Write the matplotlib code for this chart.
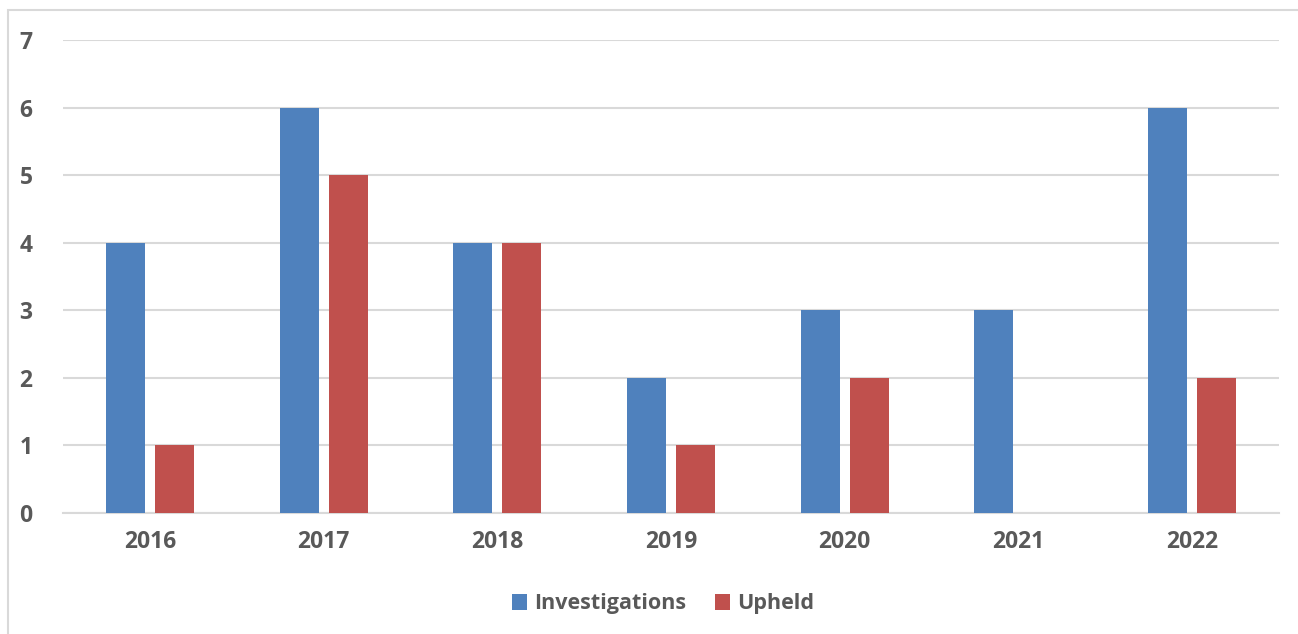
import matplotlib
matplotlib.use("Agg")
import matplotlib.pyplot as plt
from matplotlib.patches import Rectangle
import numpy as np

years = ["2016", "2017", "2018", "2019", "2020", "2021", "2022"]
investigations = [4, 6, 4, 2, 3, 3, 6]
upheld = [1, 5, 4, 1, 2, 0, 2]
yticks = [0, 1, 2, 3, 4, 5, 6, 7]

plt.rcParams['font.family'] = ['Open Sans', 'DejaVu Sans']
W, H = 1298, 634
fig = plt.figure(figsize=(W / 100, H / 100), dpi=100)
ax = fig.add_axes([63 / W, 1 - 513 / H, (1279 - 63) / W, (513 - 40) / H])

x = np.arange(len(years))
bw = 0.225
off = 0.141
blue = "#4F81BD"
red = "#C0504D"
ax.bar(x - off, investigations, bw, color=blue, label="Investigations", zorder=3)
ax.bar(x + off, upheld, bw, color=red, label="Upheld", zorder=3)

ax.set_xlim(-0.5, len(years) - 0.5)
ax.set_ylim(0, 7)
ax.set_yticks(yticks)
ax.set_xticks(x)
ax.set_xticklabels(years)
ax.grid(axis='y', color="#D9D9D9", linewidth=1.5, zorder=0)
ax.set_axisbelow(True)
for s in ["top", "right", "left"]:
    ax.spines[s].set_visible(False)
ax.spines["bottom"].set_color("#D9D9D9")
ax.spines["bottom"].set_linewidth(1.5)
ax.tick_params(axis='both', length=0, labelsize=16.5, labelcolor="#595959")
ax.tick_params(axis='y', pad=22)
ax.tick_params(axis='x', pad=12)
for lab in ax.get_xticklabels() + ax.get_yticklabels():
    lab.set_fontweight("bold")

leg = fig.legend(loc="center", bbox_to_anchor=(663 / W, 1 - 604 / H), ncol=2,
                 frameon=False, prop={'size': 15.5, 'weight': 'bold'},
                 handlelength=0.72, handleheight=0.72, handletextpad=0.33,
                 columnspacing=1.3)
for t in leg.get_texts():
    t.set_color("#595959")

fig.patches.append(Rectangle((8 / W, -0.1), 1.2, 1 - 10 / H + 0.1,
                             transform=fig.transFigure, fill=False,
                             edgecolor="#D9D9D9", linewidth=1.5))

fig.savefig("out.png", dpi=100, facecolor="white")
